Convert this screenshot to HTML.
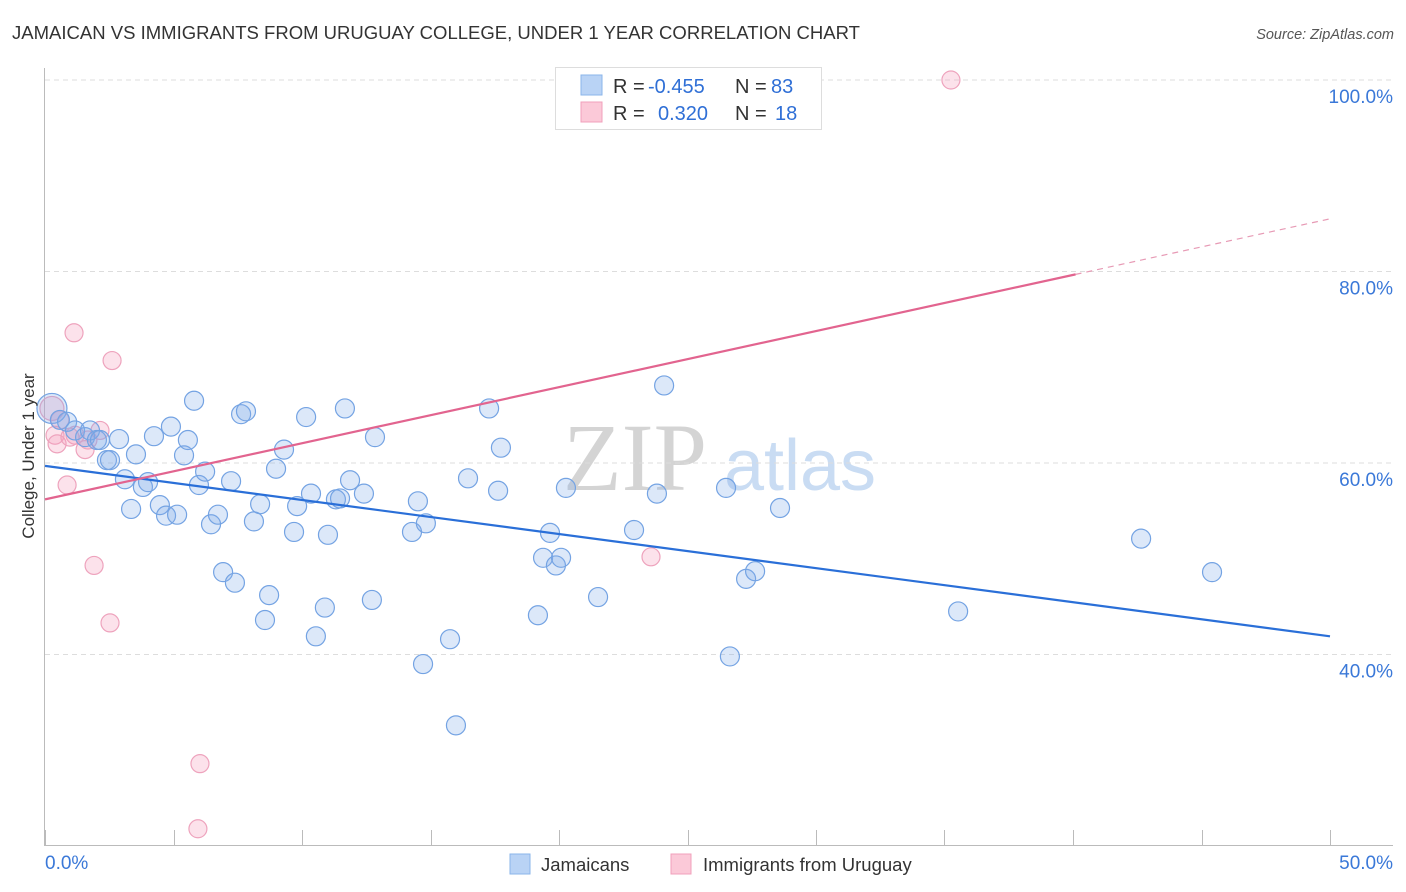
<!DOCTYPE html>
<html><head><meta charset="utf-8">
<style>
body{margin:0;background:#fff;font-family:"Liberation Sans",sans-serif;}
#wrap{position:relative;width:1406px;height:892px;overflow:hidden;}
</style></head>
<body>
<div id="wrap">
<svg id="chart" width="1406" height="892">
<text x="12" y="39" font-size="18" fill="#333" textLength="848" lengthAdjust="spacingAndGlyphs">JAMAICAN VS IMMIGRANTS FROM URUGUAY COLLEGE, UNDER 1 YEAR CORRELATION CHART</text>
<text x="1394" y="39" font-size="14.5" fill="#555" font-style="italic" text-anchor="end">Source: ZipAtlas.com</text>
<text x="635" y="490" font-size="96" fill="#d4d4d4" font-family="Liberation Serif,serif" text-anchor="middle">ZIP</text>
<text x="800" y="490" font-size="72" fill="#c9dcf3" text-anchor="middle">atlas</text>
<g id="grid"></g>
<g id="axes"></g>
<g id="marks"></g>
<text transform="translate(34,456) rotate(-90)" font-size="17" fill="#333" text-anchor="middle">College, Under 1 year</text>
<g>
<rect x="555.5" y="67.5" width="266" height="62" fill="#fff" stroke="#ddd"/>
<rect x="581" y="75" width="21" height="20" fill="#b9d3f5" stroke="#8ab4ea"/>
<rect x="581" y="102" width="21" height="20" fill="#fbc9d8" stroke="#f0a0bb"/>
<text x="613" y="93" font-size="20" fill="#333">R = <tspan fill="#2f6fd6" x="648">-0.455</tspan></text>
<text x="735" y="93" font-size="20" fill="#333">N = <tspan fill="#2f6fd6" x="771">83</tspan></text>
<text x="613" y="120" font-size="20" fill="#333">R = <tspan fill="#2f6fd6" x="658">0.320</tspan></text>
<text x="735" y="120" font-size="20" fill="#333">N = <tspan fill="#2f6fd6" x="775">18</tspan></text>
</g>
<g>
<rect x="510" y="854" width="20" height="20" fill="#b9d3f5" stroke="#8ab4ea"/>
<text x="541" y="871" font-size="18.5" fill="#333">Jamaicans</text>
<rect x="671" y="854" width="20" height="20" fill="#fbc9d8" stroke="#f0a0bb"/>
<text x="703" y="871" font-size="18.5" fill="#333">Immigrants from Uruguay</text>
</g>
</svg>
</div>
<script>
const xTickLabels = ["0.0%","50.0%"];
const yTicks = [40,60,80,100];
const yTickLabels = ["40.0%","60.0%","80.0%","100.0%"];
const blueX = [0.27,0.58,0.86,1.17,1.56,1.75,2.02,2.14,2.41,2.53,2.88,3.11,3.35,3.54,3.81,4.01,4.24,4.47,4.71,4.90,5.14,5.41,5.56,5.80,5.99,6.23,6.46,6.73,6.93,7.24,7.39,7.63,7.82,8.13,8.37,8.56,8.72,8.99,9.30,9.69,9.81,10.16,10.35,10.54,10.89,11.01,11.32,11.48,11.67,11.87,12.41,12.72,12.84,14.28,14.51,14.71,14.82,15.76,15.99,16.46,17.28,17.63,17.74,19.18,19.38,19.65,19.88,20.08,20.27,21.52,22.92,23.81,24.09,26.50,26.65,27.28,27.63,28.60,35.53,42.65,45.41];
const blueY = [65.7,64.5,64.3,63.4,62.7,63.4,62.4,62.4,60.3,60.3,62.5,58.3,55.2,60.9,57.5,58.0,62.8,55.6,54.5,63.8,54.6,60.8,62.4,66.5,57.7,59.1,53.6,54.6,48.6,58.1,47.5,65.1,65.4,53.9,55.7,43.6,46.2,59.4,61.4,52.8,55.5,64.8,56.8,41.9,44.9,52.5,56.2,56.3,65.7,58.2,56.8,45.7,62.7,52.8,56.0,39.0,53.7,41.6,32.6,58.4,65.7,57.1,61.6,44.1,50.1,52.7,49.3,50.1,57.4,46.0,53.0,56.8,68.1,57.4,39.8,47.9,48.7,55.3,44.5,52.1,48.6];
const pinkX = [0.27,0.39,0.47,0.86,1.13,1.17,1.56,1.91,2.53,2.61,6.03,5.95,23.58,35.25,0.97,2.14,1.67,0.58];
const pinkY = [65.7,62.9,62.0,57.7,73.6,62.9,61.4,49.3,43.3,70.7,28.6,21.8,50.2,100,62.7,63.4,62.4,64.5];
const blueTrend = [59.7,41.9];
const pinkTrend = [56.2,85.5];
const pinkSolidEnd = 40.1;

const X0=45,X1=1330,Y100=80,PXPER=9.575;
const sx = v => X0 + (v/50)*(X1-X0);
const sy = v => Y100 + (100-v)*PXPER;
const NS="http://www.w3.org/2000/svg";
function mk(tag,attrs,parent){const e=document.createElementNS(NS,tag);for(const k in attrs)e.setAttribute(k,attrs[k]);parent.appendChild(e);return e;}
const grid=document.getElementById('grid'),axes=document.getElementById('axes'),marks=document.getElementById('marks');
yTicks.forEach((t,i)=>{
  const l=mk('line',{x1:45,x2:1393,y1:sy(t),y2:sy(t),stroke:'#ddd','stroke-dasharray':'5,4'},grid);
  
  
  const tx=mk('text',{x:1393,y:sy(t)+23,'font-size':19,fill:'#3a78d8','text-anchor':'end'},axes);
  tx.textContent=yTickLabels[i];
  
  
});
const ya=mk('line',{x1:44.5,x2:44.5,y1:68,y2:845,stroke:'#bbb'},axes);


const xa=mk('line',{x1:44,x2:1393,y1:845.5,y2:845.5,stroke:'#bbb'},axes);


for(let i=0;i<=10;i++){
  const x=Math.round(sx(i*5))+0.5;
  const tk=mk('line',{x1:x,x2:x,y1:830,y2:845,stroke:'#bbb'},axes);
  
  
}
const xl0=mk('text',{x:45,y:869,'font-size':19,fill:'#3a78d8'},axes);xl0.textContent=xTickLabels[0];


const xl1=mk('text',{x:1393,y:869,'font-size':19,fill:'#3a78d8','text-anchor':'end'},axes);xl1.textContent=xTickLabels[1];



const pAt=x=>pinkTrend[0]+(pinkTrend[1]-pinkTrend[0])*x/50;
pinkX.forEach((x,i)=>{
  const c=mk('circle',{cx:sx(x),cy:sy(pinkY[i]),r:i===0?12:9,fill:'rgba(245,160,190,0.3)',stroke:'#eea3bd','stroke-width':1.2},marks);
  
  
});
blueX.forEach((x,i)=>{
  const c=mk('circle',{cx:sx(x),cy:sy(blueY[i]),r:i===0?15:9.5,fill:'rgba(130,172,235,0.28)',stroke:'#74a3e3','stroke-width':1.2},marks);
  
  
});
const bt=mk('line',{x1:sx(0),y1:sy(blueTrend[0]),x2:sx(50),y2:sy(blueTrend[1]),stroke:'#2a6fd8','stroke-width':2.2},marks);


const pt=mk('line',{x1:sx(0),y1:sy(pAt(0)),x2:sx(pinkSolidEnd),y2:sy(pAt(pinkSolidEnd)),stroke:'#e2648f','stroke-width':2.2},marks);


const pd=mk('line',{x1:sx(pinkSolidEnd),y1:sy(pAt(pinkSolidEnd)),x2:sx(50),y2:sy(pAt(50)),stroke:'#e79ab5','stroke-width':1.2,'stroke-dasharray':'6,5'},marks);


</script>
</body></html>
